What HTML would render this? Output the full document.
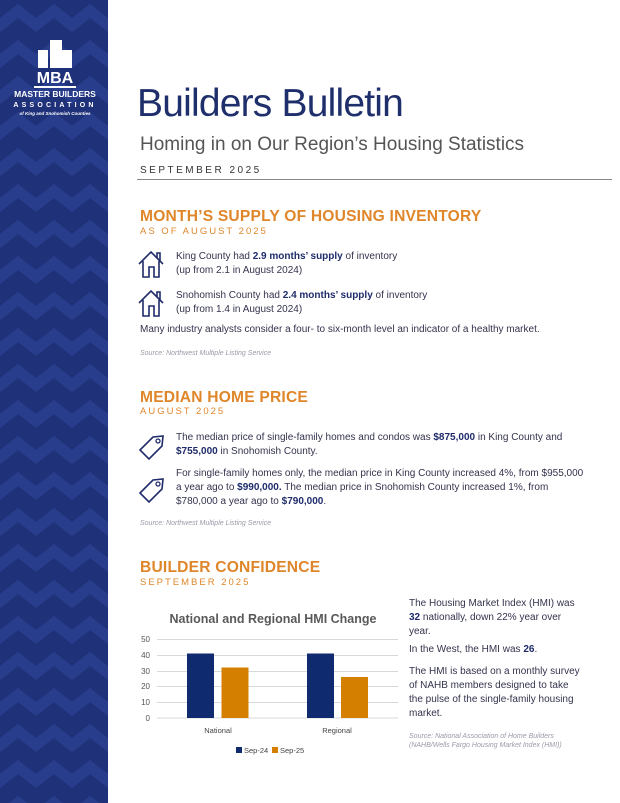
<!DOCTYPE html>
<html><head><meta charset="utf-8"><style>
body{margin:0;width:620px;height:803px;position:relative;background:#fff;font-family:"Liberation Sans",sans-serif;color:#333;overflow:hidden}
.a{position:absolute;white-space:nowrap}
.t{font-size:10px;color:#33334d}
.t b{color:#1f2b6b}
.h{font-size:15.6px;font-weight:bold;color:#e0862a;letter-spacing:0.2px}
.s{font-size:9.5px;color:#e0862a;letter-spacing:2px}
.src{font-size:7px;font-style:italic;color:#9a9aa8}
</style></head><body>
<svg class="a" style="left:0;top:0" width="108" height="803">
<defs><pattern id="p" width="36" height="36" patternUnits="userSpaceOnUse">
<rect width="36" height="36" fill="#1f3178"/>
<path d="M0 18 L18 4 L36 18 L36 32 L18 18 L0 32Z" fill="#283d8c"/>
</pattern></defs>
<rect width="108" height="803" fill="url(#p)"/>
<g fill="#fff">
<rect x="38" y="50" width="10" height="18"/><rect x="50" y="40" width="12" height="28"/><rect x="62" y="50" width="10" height="18"/>
<text x="55" y="83" font-size="16" font-weight="bold" text-anchor="middle" font-family="Liberation Sans Narrow,Liberation Sans,sans-serif">MBA</text>
<rect x="34" y="86" width="42" height="2"/>
<text x="55" y="97" font-size="8.5" font-weight="bold" text-anchor="middle" font-family="Liberation Sans Narrow,Liberation Sans,sans-serif">MASTER BUILDERS</text>
<text x="55" y="107" font-size="7" font-weight="bold" text-anchor="middle" letter-spacing="3.2">ASSOCIATION</text>
<text x="55" y="115" font-size="4.5" font-style="italic" font-weight="bold" text-anchor="middle">of King and Snohomish Counties</text>
</g></svg>
<div class="a" style="left:137px;top:82px;font-size:39px;color:#1f2f6b;letter-spacing:-0.8px">Builders Bulletin</div>
<div class="a" style="left:140px;top:134px;font-size:19px;color:#555">Homing in on Our Region’s Housing Statistics</div>
<div class="a" style="left:140px;top:165px;font-size:10px;letter-spacing:2.5px;color:#333">SEPTEMBER 2025</div>
<div class="a" style="left:137px;top:179px;width:475px;height:1px;background:#888"></div>

<div class="a h" style="left:140px;top:208px">MONTH’S SUPPLY OF HOUSING INVENTORY</div>
<div class="a s" style="left:140px;top:226px">AS OF AUGUST 2025</div>
<svg class="a" style="left:137px;top:250px" width="30" height="30"><path d="M2 14 L14 2 L26 14 M20 8 V3 H23 V11 M6 11 V27 H12 V17 H17 V27 H22 V11" fill="none" stroke="#1f2b6b" stroke-width="1.6"/></svg>
<div class="a t" style="left:176px;top:251px">King County had <b>2.9 months’ supply</b> of inventory</div>
<div class="a t" style="left:176px;top:265px">(up from 2.1 in August 2024)</div>
<svg class="a" style="left:137px;top:289px" width="30" height="30"><path d="M2 14 L14 2 L26 14 M20 8 V3 H23 V11 M6 11 V27 H12 V17 H17 V27 H22 V11" fill="none" stroke="#1f2b6b" stroke-width="1.6"/></svg>
<div class="a t" style="left:176px;top:290px">Snohomish County had <b>2.4 months’ supply</b> of inventory</div>
<div class="a t" style="left:176px;top:304px">(up from 1.4 in August 2024)</div>
<div class="a t" style="left:140px;top:324px">Many industry analysts consider a four- to six-month level an indicator of a healthy market.</div>
<div class="a src" style="left:140px;top:350px">Source: Northwest Multiple Listing Service</div>

<div class="a h" style="left:140px;top:389px">MEDIAN HOME PRICE</div>
<div class="a s" style="left:140px;top:406px">AUGUST 2025</div>
<svg class="a" style="left:137px;top:432px" width="30" height="30"><path d="M3 18 L16 5 L26 4 L25 14 L12 27 Z" fill="none" stroke="#1f2b6b" stroke-width="1.6"/><circle cx="21" cy="9" r="2" fill="none" stroke="#1f2b6b" stroke-width="1.3"/></svg>
<div class="a t" style="left:176px;top:432px">The median price of single-family homes and condos was <b>$875,000</b> in King County and</div>
<div class="a t" style="left:176px;top:446px"><b>$755,000</b> in Snohomish County.</div>
<svg class="a" style="left:137px;top:475px" width="30" height="30"><path d="M3 18 L16 5 L26 4 L25 14 L12 27 Z" fill="none" stroke="#1f2b6b" stroke-width="1.6"/><circle cx="21" cy="9" r="2" fill="none" stroke="#1f2b6b" stroke-width="1.3"/></svg>
<div class="a t" style="left:176px;top:468px">For single-family homes only, the median price in King County increased 4%, from $955,000</div>
<div class="a t" style="left:176px;top:482px">a year ago to <b>$990,000.</b> The median price in Snohomish County increased 1%, from</div>
<div class="a t" style="left:176px;top:496px">$780,000 a year ago to <b>$790,000</b>.</div>
<div class="a src" style="left:140px;top:520px">Source: Northwest Multiple Listing Service</div>

<div class="a h" style="left:140px;top:559px">BUILDER CONFIDENCE</div>
<div class="a s" style="left:140px;top:577px">SEPTEMBER 2025</div>

<svg class="a" style="left:130px;top:590px" width="275" height="170" font-family="Liberation Sans,sans-serif">
<text x="143" y="33" font-size="12.5" font-weight="bold" fill="#595959" text-anchor="middle">National and Regional HMI Change</text>
<g stroke="#d9d9d9" stroke-width="1">
<line x1="27" x2="268" y1="49.5" y2="49.5"/><line x1="27" x2="268" y1="65.5" y2="65.5"/><line x1="27" x2="268" y1="81.5" y2="81.5"/><line x1="27" x2="268" y1="96.5" y2="96.5"/><line x1="27" x2="268" y1="112.5" y2="112.5"/><line x1="27" x2="268" y1="128" y2="128"/></g>
<g font-size="8" fill="#555" text-anchor="end"><text x="20" y="52">50</text><text x="20" y="68">40</text><text x="20" y="84">30</text><text x="20" y="99">20</text><text x="20" y="115">10</text><text x="20" y="131">0</text></g>
<rect x="57" y="63.5" width="27" height="64.5" fill="#0f2a6e"/>
<rect x="91.5" y="77.5" width="27" height="50.5" fill="#d47f00"/>
<rect x="177" y="63.5" width="27" height="64.5" fill="#0f2a6e"/>
<rect x="211" y="87" width="27" height="41" fill="#d47f00"/>
<g font-size="7.5" fill="#444" text-anchor="middle"><text x="88" y="143">National</text><text x="207" y="143">Regional</text></g>
<rect x="106" y="157" width="6" height="6" fill="#0f2a6e"/><text x="114" y="163" font-size="7.5" fill="#444">Sep-24</text>
<rect x="142" y="157" width="6" height="6" fill="#d47f00"/><text x="150" y="163" font-size="7.5" fill="#444">Sep-25</text>
</svg>

<div class="a t" style="left:409px;top:598px">The Housing Market Index (HMI) was</div>
<div class="a t" style="left:409px;top:612px"><b>32</b> nationally, down 22% year over</div>
<div class="a t" style="left:409px;top:626px">year.</div>
<div class="a t" style="left:409px;top:644px">In the West, the HMI was <b>26</b>.</div>
<div class="a t" style="left:409px;top:666px">The HMI is based on a monthly survey</div>
<div class="a t" style="left:409px;top:680px">of NAHB members designed to take</div>
<div class="a t" style="left:409px;top:694px">the pulse of the single-family housing</div>
<div class="a t" style="left:409px;top:708px">market.</div>
<div class="a src" style="left:409px;top:733px">Source: National Association of Home Builders</div>
<div class="a src" style="left:409px;top:742px">(NAHB/Wells Fargo Housing Market Index (HMI))</div>
</body></html>
